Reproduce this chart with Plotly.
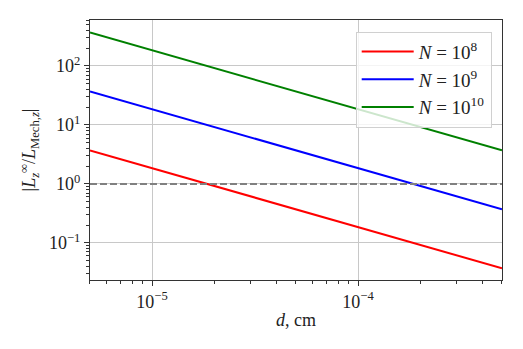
import plotly.graph_objects as go

# data (straight lines in log-log, two ends each)
d_cm = [5e-6, 5e-4]
ratio_n1e8 = [3.7, 0.037]
ratio_n1e9 = [37, 0.37]
ratio_n1e10 = [370, 3.7]
unity = [1.0, 1.0]

series = [("10<sup>8</sup>", ratio_n1e8, "red"),
          ("10<sup>9</sup>", ratio_n1e9, "blue"),
          ("10<sup>10</sup>", ratio_n1e10, "green")]

x_tickvals = [1e-5, 1e-4]
x_ticktext = ["10<sup>−5</sup>", "10<sup>−4</sup>"]
y_tickvals = [1e-1, 1e0, 1e1, 1e2]
y_ticktext = ["10<sup>−1</sup>", "10<sup>0</sup>", "10<sup>1</sup>", "10<sup>2</sup>"]

# minor tick positions 2..9 x 10^k
x_minor = [m * 10.0 ** k for k in range(-6, -3) for m in range(2, 10)]
y_minor = [m * 10.0 ** k for k in range(-2, 3) for m in range(2, 10)]

x_range = [-5.301, -3.301]
y_range = [-1.63, 2.78]

font_main = "Liberation Serif"
txt = dict(family=font_main, size=18, color="#222")

fig = go.Figure()
for name, yv, col in series:
    fig.add_trace(go.Scatter(x=d_cm, y=yv, mode="lines", name="<i>N</i> = " + name,
                             line=dict(color=col, width=2)))
# dashed reference line lives on the overlay axes that carry the minor ticks
fig.add_trace(go.Scatter(x=d_cm, y=unity, mode="lines", showlegend=False,
                         xaxis="x2", yaxis="y2",
                         line=dict(color="gray", width=2, dash="7px,3px")))

axis_common = dict(type="log", showline=True, linecolor="#333", linewidth=1, mirror=True,
                   ticks="outside", ticklen=5, tickcolor="#333", showgrid=True,
                   gridcolor="#c8c8c8", gridwidth=0.8, zeroline=False, automargin=False,
                   tickfont=txt)
minor_common = dict(type="log", showline=False, showgrid=False, zeroline=False,
                    showticklabels=False, ticks="outside", ticklen=3, tickwidth=1,
                    tickcolor="#333", automargin=False)

fig.update_layout(
    width=515, height=341,
    margin=dict(l=82, r=21, t=12, b=69),
    plot_bgcolor="white", paper_bgcolor="white",
    xaxis=dict(range=x_range, tickvals=x_tickvals, ticktext=x_ticktext,
               title=dict(text="<i>d</i>, cm", font=txt, standoff=2), **axis_common),
    yaxis=dict(range=y_range, tickvals=y_tickvals, ticktext=y_ticktext,
               title=dict(text="|<i>L</i><sub><i>z</i></sub><sup>∞</sup>/<i>L</i><sub>Mech,<i>z</i></sub>|",
                          font=txt, standoff=8), **axis_common),
    xaxis2=dict(overlaying="x", side="bottom", anchor="y2", range=x_range,
                tickvals=x_minor, **minor_common),
    yaxis2=dict(overlaying="y", side="left", anchor="x2", range=y_range,
                tickvals=y_minor, **minor_common),
    legend=dict(x=0.975, y=0.955, xanchor="right", yanchor="top",
                bgcolor="rgba(255,255,255,0.8)", bordercolor="#d0d0d0", borderwidth=1,
                font=dict(family=font_main, size=19, color="#222"), itemwidth=52),
    showlegend=True,
)
fig.write_html("out.html")
